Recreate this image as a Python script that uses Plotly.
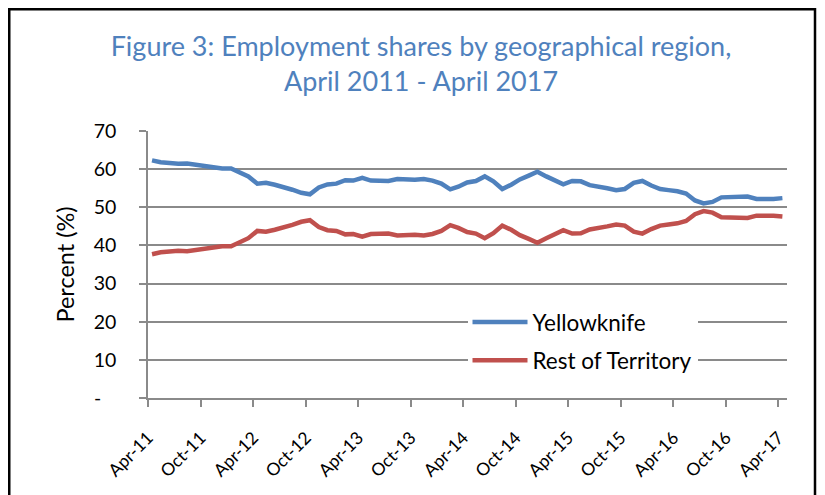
import plotly.graph_objects as go
import pandas as pd

# Monthly observations, April 2011 - April 2017 (percent shares)
yellowknife = [62.3, 61.8, 61.6, 61.4, 61.5, 61.1, 60.8, 60.3, 60.2, 60.2,
               59.1, 58.1, 56.2, 56.4, 55.9, 55.4, 54.6, 53.8, 53.4, 55.2,
               56.0, 56.2, 57.1, 57.0, 57.7, 57.0, 56.9, 56.9, 57.4, 57.3,
               57.2, 57.4, 57.0, 56.2, 54.7, 55.4, 56.5, 56.9, 58.1, 56.8,
               54.8, 55.9, 57.3, 58.3, 59.3, 58.1, 57.0, 56.0, 56.9, 56.8,
               55.8, 55.5, 55.0, 54.5, 54.8, 56.4, 56.9, 55.7, 54.8, 54.5,
               54.2, 53.6, 51.8, 51.0, 51.4, 52.6, 52.7, 52.6, 52.8, 52.2,
               52.1, 52.2, 52.4]
rest_of_territory = [37.7, 38.2, 38.4, 38.6, 38.5, 38.9, 39.2, 39.7, 39.8, 39.8,
                     40.9, 41.9, 43.8, 43.6, 44.1, 44.6, 45.4, 46.2, 46.6, 44.8,
                     44.0, 43.8, 42.9, 43.0, 42.3, 43.0, 43.1, 43.1, 42.6, 42.7,
                     42.8, 42.6, 43.0, 43.8, 45.3, 44.6, 43.5, 43.1, 41.9, 43.2,
                     45.2, 44.1, 42.7, 41.7, 40.7, 41.9, 43.0, 44.0, 43.1, 43.2,
                     44.2, 44.5, 45.0, 45.5, 45.2, 43.6, 43.1, 44.3, 45.2, 45.5,
                     45.8, 46.4, 48.2, 49.0, 48.6, 47.4, 47.3, 47.4, 47.2, 47.8,
                     47.9, 47.8, 47.6]
months = pd.date_range("2011-04-01", "2017-04-01", freq="MS") + pd.Timedelta(days=14)

tick_dates = ["2011-04-01", "2011-10-01", "2012-04-01", "2012-10-01", "2013-04-01",
              "2013-10-01", "2014-04-01", "2014-10-01", "2015-04-01", "2015-10-01",
              "2016-04-01", "2016-10-01", "2017-04-01"]
tick_labels = ["Apr-11", "Oct-11", "Apr-12", "Oct-12", "Apr-13", "Oct-13", "Apr-14",
               "Oct-14", "Apr-15", "Oct-15", "Apr-16", "Oct-16", "Apr-17"]
y_ticks = [0, 10, 20, 30, 40, 50, 60, 70]
y_labels = ["-\u00a0\u00a0\u00a0", "10", "20", "30", "40", "50", "60", "70"]

FONT = "Lato, 'Open Sans', sans-serif"
GRID = "#8a8a8a"

# figure is 817x487 (page body adds an 8px margin)
W, H = 817, 487
L, R, T, B = 140, 38, 123, 97
PW, PH = W - L - R, H - T - B


def px(x):
    return (x - L) / PW


def py(y):
    return (H - B - y) / PH


fig = go.Figure()
fig.add_trace(go.Scatter(x=months, y=yellowknife, mode="lines", name="Yellowknife",
                         legendgroup="a",
                         line=dict(color="#4F81BD", width=4.5)))
fig.add_trace(go.Scatter(x=months, y=rest_of_territory, mode="lines",
                         name="Rest of Territory", legendgroup="b",
                         line=dict(color="#C0504D", width=4.5)))

fig.update_layout(
    width=W, height=H,
    margin=dict(l=L, r=R, t=T, b=B),
    paper_bgcolor="white", plot_bgcolor="white",
    font=dict(family=FONT, color="black", size=18),
    title=dict(text="Figure 3: Employment shares by geographical region,<br>April 2011 - April 2017",
               x=0.5055, xanchor="center", xref="container",
               y=1 - 48 / H, yanchor="top", yref="container",
               font=dict(family=FONT, size=27, color="#4F81BD")),
    showlegend=True,
    legend=dict(x=0.50, y=0.364, xanchor="left", yanchor="top",
                bgcolor="white", borderwidth=0, tracegroupgap=6,
                font=dict(family=FONT, size=22.5, color="black"),
                itemwidth=55),
    xaxis=dict(type="date", range=["2011-04-01", "2017-05-01"],
               tickmode="array", tickvals=tick_dates, ticktext=tick_labels,
               tickangle=-45, tickfont=dict(family=FONT, size=17.5),
               showgrid=False, zeroline=False,
               showline=True, linecolor=GRID, linewidth=1.5,
               ticks="outside", ticklen=7, tickcolor=GRID, tickwidth=1.5,
               ticklabelstandoff=14),
    yaxis=dict(range=[0, 70], tickmode="array", tickvals=y_ticks, ticktext=y_labels,
               tickfont=dict(family=FONT, size=19.5),
               showgrid=True, gridcolor=GRID, gridwidth=1.5, zeroline=False,
               showline=True, linecolor=GRID, linewidth=1.5,
               ticks="outside", ticklen=7, tickcolor=GRID, tickwidth=1.5,
               ticklabelstandoff=19,
               title=dict(text="Percent (%)", font=dict(family=FONT, size=23.5),
                          standoff=12)),
    shapes=[
        dict(type="rect", xref="paper", yref="paper",
             x0=px(439), x1=px(710), y0=py(370), y1=py(294),
             line=dict(width=0), fillcolor="white", layer="between"),
        dict(type="rect", xref="paper", yref="paper",
             x0=px(1.25), x1=px(807), y0=-0.5, y1=py(1.25),
             line=dict(color="black", width=2.5), fillcolor="rgba(0,0,0,0)",
             layer="above"),
    ],
)

fig.write_html("out.html")
